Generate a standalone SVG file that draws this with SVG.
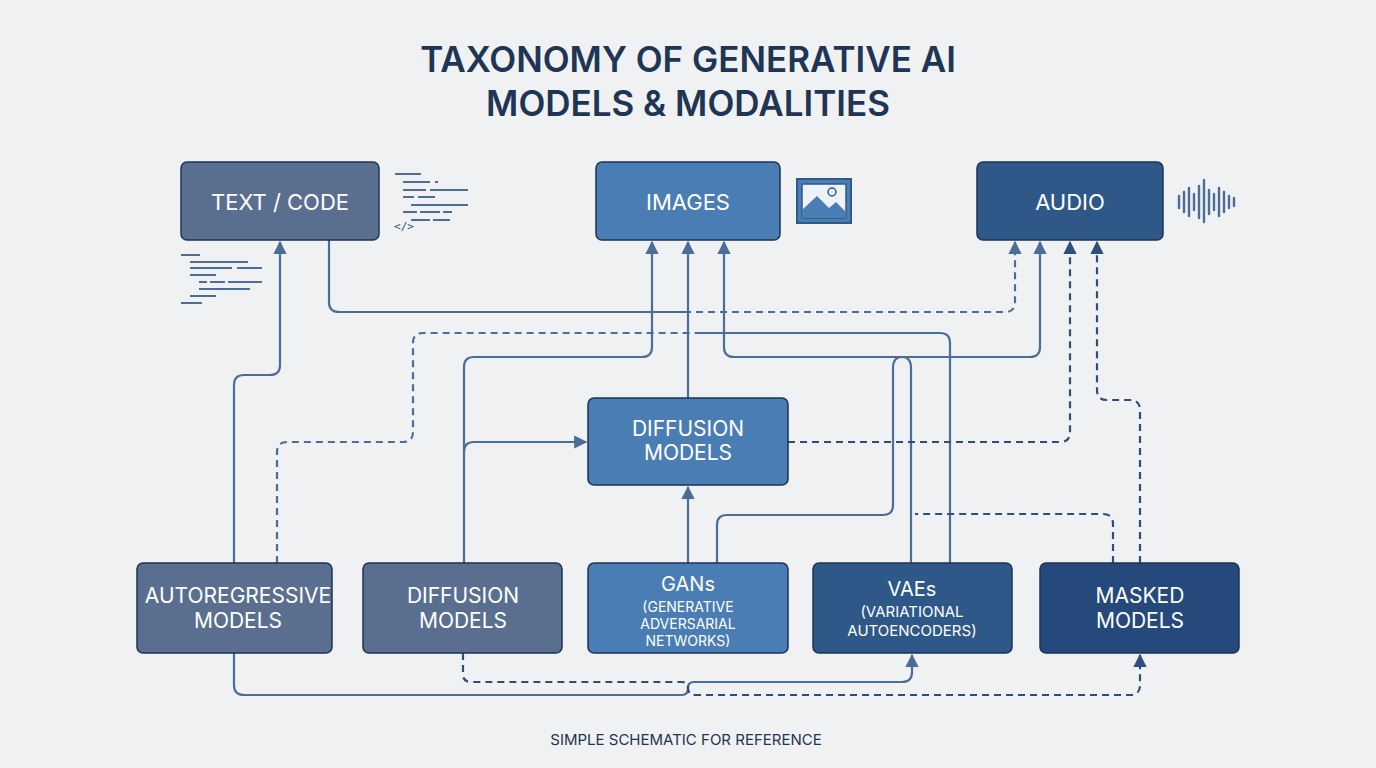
<svg xmlns="http://www.w3.org/2000/svg" width="1376" height="768" viewBox="0 0 1376 768">
<style>
.t{font-family:Inter,"Liberation Sans",sans-serif;fill:#fff;text-anchor:middle}
.n{stroke:#1d3553;stroke-width:1.5}
.c{fill:none;stroke:#4c6d98;stroke-width:2.2;stroke-linejoin:round}
.d{stroke-dasharray:7 5}
.k{stroke:#2d4f7a}
.ic{stroke:#4c6d98;stroke-width:2.2}
</style>
<defs>
<marker id="a" viewBox="0 0 10 10" refX="9" refY="5" markerWidth="6" markerHeight="6" orient="auto-start-reverse"><path d="M0,0L10,5L0,10z" fill="#4c6d98"/></marker>
<marker id="b" viewBox="0 0 10 10" refX="9" refY="5" markerWidth="6" markerHeight="6" orient="auto-start-reverse"><path d="M0,0L10,5L0,10z" fill="#2d4f7a"/></marker>
</defs>
<rect width="1376" height="768" fill="#eff1f3"/>
<text x="688" y="72" font-family="Inter,'Liberation Sans',sans-serif" font-size="35" font-weight="600" fill="#1f3554" text-anchor="middle">TAXONOMY OF GENERATIVE AI</text>
<text x="688" y="116" font-family="Inter,'Liberation Sans',sans-serif" font-size="35" font-weight="600" fill="#1f3554" text-anchor="middle">MODELS &amp; MODALITIES</text>
<text x="686" y="745" font-family="Inter,'Liberation Sans',sans-serif" font-size="15" fill="#1f3554" text-anchor="middle">SIMPLE SCHEMATIC FOR REFERENCE</text>

<g id="connectors">
<path class="c" d="M234,563V385Q234,375 244,375H270Q280,375 280,365V242" marker-end="url(#a)"/>
<path class="c d" d="M277,563V452Q277,442 287,442H403Q413,442 413,432V343Q413,333 423,333H700"/>
<path class="c" d="M700,333H940Q950,333 950,343V563"/>
<path class="c" d="M329,240V302Q329,312 339,312H684"/>
<path class="c d" d="M684,312H1005Q1015,312 1015,302V242" marker-end="url(#a)"/>
<path class="c" d="M464,563V367Q464,357 474,357H642Q652,357 652,347V242" marker-end="url(#a)"/>
<path class="c" d="M464,452Q464,442 474,442H586" marker-end="url(#a)"/>
<path class="c" d="M688,398V242" marker-end="url(#a)"/>
<path class="c" d="M688,563V487" marker-end="url(#a)"/>
<path class="c" d="M724,242V347Q724,357 734,357H1030Q1040,357 1040,347V242" marker-start="url(#a)" marker-end="url(#a)"/>
<path class="c" d="M717,563V525Q717,515 727,515H883Q893,515 893,505V368Q893,357 902,357Q911,357 911,368V563"/>
<path class="c k d" d="M788,442H1060Q1070,442 1070,432V242" marker-end="url(#b)"/>
<path class="c k d" d="M1140,563V410Q1140,400 1130,400H1107Q1097,400 1097,390V242" marker-end="url(#b)"/>
<path class="c k d" d="M1113,563V524Q1113,514 1103,514H915"/>
<path class="c" d="M234,653V685Q234,695 244,695H682Q688,695 688,688Q688,682 694,682H902Q912,682 912,672V655" marker-end="url(#a)"/>
<path class="c k d" d="M463,653V674Q463,682 471,682H682Q688,682 688,688Q688,695 696,695H1130Q1140,695 1140,685V655" marker-end="url(#b)"/>
</g>

<g id="text-code"><rect class="n" x="181" y="162" width="198" height="78" rx="6" fill="#5a6f90"/><text class="t" x="280" y="210" font-size="22">TEXT / CODE</text></g>
<g id="images"><rect class="n" x="596" y="162" width="184" height="78" rx="6" fill="#4a7db3"/><text class="t" x="688" y="210" font-size="22">IMAGES</text></g>
<g id="audio"><rect class="n" x="977" y="162" width="186" height="78" rx="6" fill="#2d5888"/><text class="t" x="1070" y="210" font-size="22">AUDIO</text></g>
<g id="diffusion-center"><rect class="n" x="588" y="398" width="200" height="87" rx="6" fill="#4a7db3"/><text class="t" x="688" y="436" font-size="21">DIFFUSION</text><text class="t" x="688" y="460" font-size="21">MODELS</text></g>
<g id="autoregressive"><rect class="n" x="137" y="563" width="195" height="90" rx="6" fill="#5a6f90"/><text class="t" x="238" y="603" font-size="21">AUTOREGRESSIVE</text><text class="t" x="238" y="628" font-size="21">MODELS</text></g>
<g id="diffusion-bottom"><rect class="n" x="363" y="563" width="199" height="90" rx="6" fill="#5a6f90"/><text class="t" x="463" y="603" font-size="21">DIFFUSION</text><text class="t" x="463" y="628" font-size="21">MODELS</text></g>
<g id="gans"><rect class="n" x="588" y="563" width="200" height="90" rx="6" fill="#4a7db3"/><text class="t" x="688" y="591" font-size="20">GANs</text><text class="t" x="688" y="612" font-size="14">(GENERATIVE</text><text class="t" x="688" y="629" font-size="14">ADVERSARIAL</text><text class="t" x="688" y="646" font-size="14">NETWORKS)</text></g>
<g id="vaes"><rect class="n" x="813" y="563" width="199" height="90" rx="6" fill="#2d5888"/><text class="t" x="912" y="596" font-size="20">VAEs</text><text class="t" x="912" y="617" font-size="15">(VARIATIONAL</text><text class="t" x="912" y="636" font-size="15">AUTOENCODERS)</text></g>
<g id="masked"><rect class="n" x="1040" y="563" width="199" height="90" rx="6" fill="#24497a"/><text class="t" x="1140" y="603" font-size="21">MASKED</text><text class="t" x="1140" y="628" font-size="21">MODELS</text></g>

<g id="icon-code" class="ic">
<path d="M395,174H421M403,182H430M435,182H438M403,190H426M430,190H468M403,197H414M418,197H435M411,205H468M403,212H417M420,212H440M443,212H452M411,220H430M433,220H450"/>
<text x="404" y="230" font-family="'DejaVu Sans Mono',monospace" font-size="11" fill="#2d4f7a" stroke="none" text-anchor="middle">&lt;/&gt;</text>
<path d="M181,255H200M190,262H248M190,268H232M237,268H262M190,275H216M199,282H207M210,282H225M228,282H262M199,289H250M190,296H216M181,303H202"/>
</g>
<g id="icon-image"><rect x="797" y="179" width="54" height="44" fill="#4a7db3" stroke="#2d5888" stroke-width="2"/><rect x="802" y="184" width="44" height="34" fill="#eef1f5" stroke="#2d5888" stroke-width="1.5"/><path d="M802,210L817,196L829,208L836,202L846,212V218H802z" fill="#4a7db3"/><circle cx="832" cy="192" r="4" fill="#eef1f5" stroke="#2d5888" stroke-width="1.5"/></g>
<g id="icon-audio" stroke="#4c6d98" stroke-width="2.4" stroke-linecap="round"><path d="M1179,196V208M1184,192V212M1189,188V216M1194,194V210M1199,186V218M1204,180V222M1209,190V214M1214,194V210M1219,188V216M1224,192V212M1229,196V208M1234,198V206"/></g>
</svg>
